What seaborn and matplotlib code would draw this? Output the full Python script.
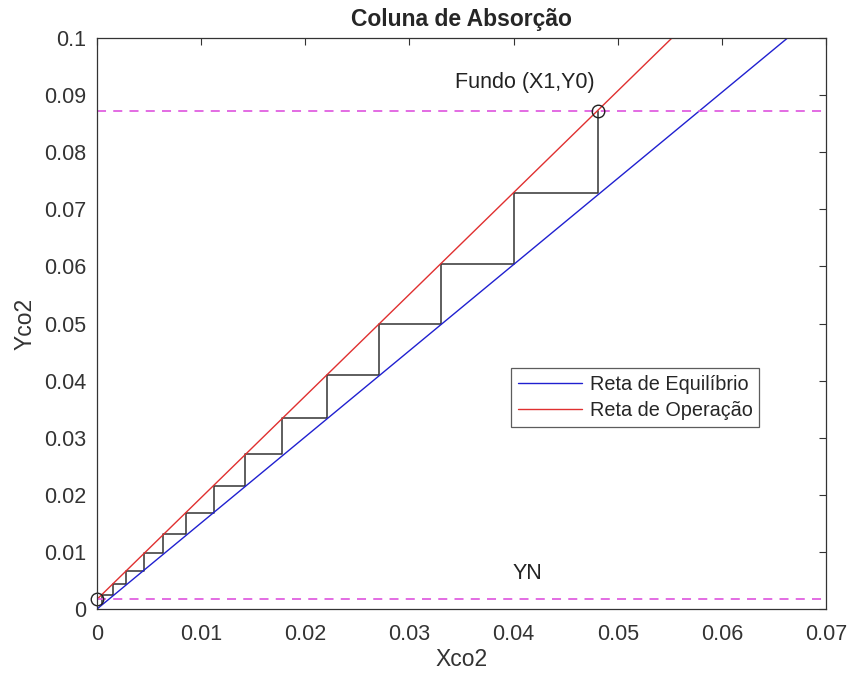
import numpy as np
import pandas as pd
import matplotlib
matplotlib.use("Agg")
import matplotlib.pyplot as plt
import seaborn as sns

# Lines (end points)
eq_x = [0.0, 0.0663]
eq_y = [0.0, 0.1]
op_x = [0.0, 0.0552]
op_y = [0.0017, 0.1]

# Stair corners: x of each vertical and y at its top (on the operating line)
stage_x = [0.0481, 0.0400, 0.0330, 0.0271, 0.0221, 0.0178, 0.0142,
           0.0112, 0.0085, 0.0063, 0.0045, 0.0028, 0.0015, 0.0005]
stage_top = [0.0872, 0.0729, 0.0604, 0.0499, 0.0410, 0.0335, 0.0271,
             0.0216, 0.0169, 0.0131, 0.0098, 0.0067, 0.0044, 0.0024]
last_bottom = 0.0008

y0 = 0.0872   # fundo
yn = 0.0017   # topo
x1 = 0.0481

sns.set_style("white")
plt.rcParams['font.family'] = ['Liberation Sans', 'DejaVu Sans']

fig = plt.figure(figsize=(8.48, 6.83), dpi=100)
ax = fig.add_axes([0.1144, 0.1083, 0.8597, 0.836])

# staircase path
sx, sy = [], []
bottoms = stage_top[1:] + [last_bottom]
for i in range(len(stage_x)):
    sx += [stage_x[i], stage_x[i]]
    sy += [stage_top[i], bottoms[i]]
    if i + 1 < len(stage_x):
        sx.append(stage_x[i + 1])
        sy.append(bottoms[i])
sns.lineplot(x=sx, y=sy, sort=False, estimator=None, color="#333333", lw=1.1, ax=ax)

sns.lineplot(x=eq_x, y=eq_y, color="#2020d0", lw=1.0, ax=ax, label="Reta de Equilíbrio")
sns.lineplot(x=op_x, y=op_y, color="#e03030", lw=1.0, ax=ax, label="Reta de Operação")

ax.axhline(y0, color="#e060e0", ls=(0, (5, 4)), lw=1.3)
ax.axhline(yn, color="#e060e0", ls=(0, (5, 4)), lw=1.3)

ax.plot([x1, 0.0], [y0, yn], 'o', mfc='none', mec='#222222', ms=9, mew=1.0, clip_on=False)

ax.text(0.0411, 0.0922, "Fundo (X1,Y0)", ha='center', va='center', fontsize=15.5, color="#222222")
ax.text(0.0413, 0.0063, "YN", ha='center', va='center', fontsize=15.5, color="#222222")

ax.set_xlim(0, 0.07)
ax.set_ylim(0, 0.1)
ax.set_xticks(np.arange(0, 0.0701, 0.01))
ax.set_yticks(np.arange(0, 0.1001, 0.01))
ax.set_xticklabels(["0", "0.01", "0.02", "0.03", "0.04", "0.05", "0.06", "0.07"])
ax.set_yticklabels(["0", "0.01", "0.02", "0.03", "0.04", "0.05", "0.06", "0.07", "0.08", "0.09", "0.1"])
ax.tick_params(direction='in', length=5, top=True, right=True, labelsize=15.5,
               colors="#333333", width=0.8, pad=8)
ax.tick_params(axis='x', pad=11)
for s in ax.spines.values():
    s.set_color("#333333")
    s.set_linewidth(0.9)

ax.set_xlabel("Xco2", fontsize=16.5, color="#333333", labelpad=2)
ax.set_ylabel("Yco2", fontsize=16.5, color="#333333", labelpad=5)
ax.set_title("Coluna de Absorção", fontsize=16.5, fontweight='bold', pad=9)

leg = ax.legend(loc='upper left', bbox_to_anchor=(0.568, 0.422), borderaxespad=0,
                fontsize=14.3, frameon=True, fancybox=False, edgecolor="#333333",
                handlelength=3.2, borderpad=0.35, labelspacing=0.35, handletextpad=0.4)
leg.get_frame().set_linewidth(0.9)

fig.savefig("out.png", dpi=100)
